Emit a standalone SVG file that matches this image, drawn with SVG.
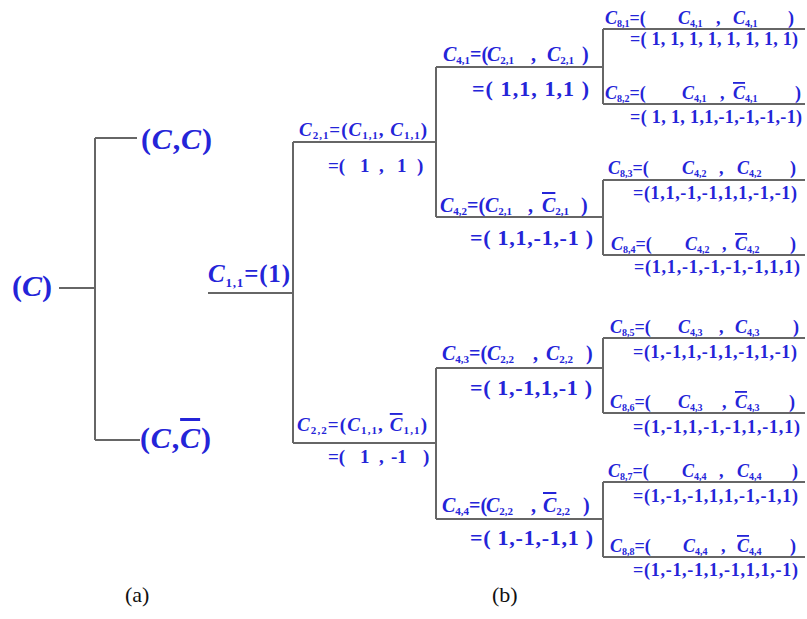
<svg xmlns="http://www.w3.org/2000/svg" width="807" height="619" viewBox="0 0 807 619">
<style>
.t{font-family:"Liberation Serif","Times New Roman",serif;font-weight:bold;fill:#2424d8}
.i{font-style:italic}
.ov{text-decoration:overline}
.f30{font-size:30px}.f25{font-size:25px}.f22{font-size:22px}.f20{font-size:20px}.f19{font-size:19px}.f18{font-size:18px}
.s14{font-size:13px}.s11{font-size:11px}.s10{font-size:10px}
.cap{font-family:"Liberation Serif","Times New Roman",serif;font-size:22px;fill:#111}
.ln{fill:none;stroke:#666;stroke-width:2}
</style>
<rect width="807" height="619" fill="#fff"/>
<g id="connectors" class="ln">
<path d="M59,288H95M95,138V440M95,138H137M95,440H140"/>
<path d="M208,293H293M293,142V443M293,142H436M293,443H436"/>
<path d="M436,67V217M436,67H603M436,217H603M436,368V519M436,368H603M436,519H603"/>
<path d="M603,29V104M603,29H805M603,104H805"/>
<path d="M603,180V255M603,180H805M603,255H805"/>
<path d="M603,338V413M603,338H805M603,413H805"/>
<path d="M603,482V557M603,482H805M603,557H805"/>
</g>
<g id="a-root"><text class="t f30" x="12" y="296">(<tspan class="i">C</tspan>)</text></g>
<g id="a-top"><text class="t f30" x="141" y="149" textLength="71" lengthAdjust="spacing">(<tspan class="i">C</tspan>,<tspan class="i">C</tspan>)</text></g>
<g id="a-bot"><text class="t f30" x="140" y="448" textLength="71" lengthAdjust="spacing">(<tspan class="i">C</tspan>,<tspan class="i ov">C</tspan>)</text></g>
<g id="c11"><text class="t f25" x="208" y="282" textLength="82" lengthAdjust="spacing"><tspan class="i">C</tspan><tspan class="s14" dy="5">1,1</tspan><tspan dy="-5">=(1)</tspan></text></g>
<g id="c21">
<text class="t f19" x="299" y="136" textLength="128" lengthAdjust="spacing"><tspan class="i">C</tspan><tspan class="s11" dy="3">2,1</tspan><tspan dy="-3">=(</tspan><tspan class="i">C</tspan><tspan class="s11" dy="3">1,1</tspan><tspan dy="-3">, </tspan><tspan class="i">C</tspan><tspan class="s11" dy="3">1,1</tspan><tspan dy="-3">)</tspan></text>
<text class="t f19" y="172"><tspan x="328">=(</tspan><tspan x="360">1</tspan><tspan x="379">,</tspan><tspan x="397">1</tspan><tspan x="417">)</tspan></text>
</g>
<g id="c22">
<text class="t f19" x="297" y="431" textLength="130" lengthAdjust="spacing"><tspan class="i">C</tspan><tspan class="s11" dy="3">2,2</tspan><tspan dy="-3">=(</tspan><tspan class="i">C</tspan><tspan class="s11" dy="3">1,1</tspan><tspan dy="-3">, </tspan><tspan class="i ov">C</tspan><tspan class="s11" dy="3">1,1</tspan><tspan dy="-3">)</tspan></text>
<text class="t f19" y="463"><tspan x="328">=(</tspan><tspan x="360">1</tspan><tspan x="379">,</tspan><tspan x="391">-1</tspan><tspan x="423">)</tspan></text>
</g>
<g id="c41">
<text class="t f20" y="61"><tspan x="443" class="i">C</tspan><tspan class="s11" dy="3">4,1</tspan><tspan dy="-3">=(</tspan><tspan x="487" class="i">C</tspan><tspan class="s11" dy="3">2,1</tspan><tspan x="531" dy="-3">,</tspan><tspan x="547" class="i">C</tspan><tspan class="s11" dy="3">2,1</tspan><tspan x="582" dy="-3">)</tspan></text>
<text class="t f22" x="472" y="96" textLength="117" lengthAdjust="spacing">=( 1,1, 1,1 )</text>
</g>
<g id="c42">
<text class="t f20" y="212"><tspan x="440" class="i">C</tspan><tspan class="s11" dy="3">4,2</tspan><tspan dy="-3">=(</tspan><tspan x="485" class="i">C</tspan><tspan class="s11" dy="3">2,1</tspan><tspan x="528" dy="-3">,</tspan><tspan x="542" class="i ov">C</tspan><tspan class="s11" dy="3">2,1</tspan><tspan x="581" dy="-3">)</tspan></text>
<text class="t f22" x="470" y="245" textLength="123" lengthAdjust="spacing">=( 1,1,-1,-1 )</text>
</g>
<g id="c43">
<text class="t f20" y="360"><tspan x="442" class="i">C</tspan><tspan class="s11" dy="3">4,3</tspan><tspan dy="-3">=(</tspan><tspan x="487" class="i">C</tspan><tspan class="s11" dy="3">2,2</tspan><tspan x="533" dy="-3">,</tspan><tspan x="546" class="i">C</tspan><tspan class="s11" dy="3">2,2</tspan><tspan x="586" dy="-3">)</tspan></text>
<text class="t f22" x="470" y="395" textLength="122" lengthAdjust="spacing">=( 1,-1,1,-1 )</text>
</g>
<g id="c44">
<text class="t f20" y="512"><tspan x="442" class="i">C</tspan><tspan class="s11" dy="3">4,4</tspan><tspan dy="-3">=(</tspan><tspan x="486" class="i">C</tspan><tspan class="s11" dy="3">2,2</tspan><tspan x="531" dy="-3">,</tspan><tspan x="543" class="i ov">C</tspan><tspan class="s11" dy="3">2,2</tspan><tspan x="583" dy="-3">)</tspan></text>
<text class="t f22" x="470" y="545" textLength="123" lengthAdjust="spacing">=( 1,-1,-1,1 )</text>
</g>
<g id="c81">
<text class="t f18" y="24"><tspan x="605" class="i">C</tspan><tspan class="s10" dy="3">8,1</tspan><tspan dy="-3">=(</tspan><tspan x="678" class="i">C</tspan><tspan class="s10" dy="3">4,1</tspan><tspan x="716" dy="-3">,</tspan><tspan x="733" class="i">C</tspan><tspan class="s10" dy="3">4,1</tspan><tspan x="788" dy="-3">)</tspan></text>
<text class="t f18" x="630" y="45" textLength="168" lengthAdjust="spacing">=( 1, 1, 1, 1, 1, 1, 1, 1)</text>
</g>
<g id="c82">
<text class="t f18" y="99"><tspan x="605" class="i">C</tspan><tspan class="s10" dy="3">8,2</tspan><tspan dy="-3">=(</tspan><tspan x="682" class="i">C</tspan><tspan class="s10" dy="3">4,1</tspan><tspan x="720" dy="-3">,</tspan><tspan x="733" class="i ov">C</tspan><tspan class="s10" dy="3">4,1</tspan><tspan x="795" dy="-3">)</tspan></text>
<text class="t f18" x="630" y="123" textLength="172" lengthAdjust="spacing">=( 1, 1, 1,1,-1,-1,-1,-1)</text>
</g>
<g id="c83">
<text class="t f18" y="174"><tspan x="608" class="i">C</tspan><tspan class="s10" dy="3">8,3</tspan><tspan dy="-3">=(</tspan><tspan x="682" class="i">C</tspan><tspan class="s10" dy="3">4,2</tspan><tspan x="719" dy="-3">,</tspan><tspan x="737" class="i">C</tspan><tspan class="s10" dy="3">4,2</tspan><tspan x="790" dy="-3">)</tspan></text>
<text class="t f18" x="633" y="199" textLength="164" lengthAdjust="spacing">=(1,1,-1,-1,1,1,-1,-1)</text>
</g>
<g id="c84">
<text class="t f18" y="250"><tspan x="611" class="i">C</tspan><tspan class="s10" dy="3">8,4</tspan><tspan dy="-3">=(</tspan><tspan x="685" class="i">C</tspan><tspan class="s10" dy="3">4,2</tspan><tspan x="722" dy="-3">,</tspan><tspan x="735" class="i ov">C</tspan><tspan class="s10" dy="3">4,2</tspan><tspan x="790" dy="-3">)</tspan></text>
<text class="t f18" x="634" y="273" textLength="166" lengthAdjust="spacing">=(1,1,-1,-1,-1,-1,1,1)</text>
</g>
<g id="c85">
<text class="t f18" y="333"><tspan x="610" class="i">C</tspan><tspan class="s10" dy="3">8,5</tspan><tspan dy="-3">=(</tspan><tspan x="678" class="i">C</tspan><tspan class="s10" dy="3">4,3</tspan><tspan x="719" dy="-3">,</tspan><tspan x="735" class="i">C</tspan><tspan class="s10" dy="3">4,3</tspan><tspan x="793" dy="-3">)</tspan></text>
<text class="t f18" x="633" y="358" textLength="164" lengthAdjust="spacing">=(1,-1,1,-1,1,-1,1,-1)</text>
</g>
<g id="c86">
<text class="t f18" y="408"><tspan x="610" class="i">C</tspan><tspan class="s10" dy="3">8,6</tspan><tspan dy="-3">=(</tspan><tspan x="678" class="i">C</tspan><tspan class="s10" dy="3">4,3</tspan><tspan x="722" dy="-3">,</tspan><tspan x="735" class="i ov">C</tspan><tspan class="s10" dy="3">4,3</tspan><tspan x="789" dy="-3">)</tspan></text>
<text class="t f18" x="633" y="433" textLength="167" lengthAdjust="spacing">=(1,-1,1,-1,-1,1,-1,1)</text>
</g>
<g id="c87">
<text class="t f18" y="477"><tspan x="608" class="i">C</tspan><tspan class="s10" dy="3">8,7</tspan><tspan dy="-3">=(</tspan><tspan x="682" class="i">C</tspan><tspan class="s10" dy="3">4,4</tspan><tspan x="719" dy="-3">,</tspan><tspan x="737" class="i">C</tspan><tspan class="s10" dy="3">4,4</tspan><tspan x="792" dy="-3">)</tspan></text>
<text class="t f18" x="633" y="502" textLength="165" lengthAdjust="spacing">=(1,-1,-1,1,1,-1,-1,1)</text>
</g>
<g id="c88">
<text class="t f18" y="552"><tspan x="610" class="i">C</tspan><tspan class="s10" dy="3">8,8</tspan><tspan dy="-3">=(</tspan><tspan x="683" class="i">C</tspan><tspan class="s10" dy="3">4,4</tspan><tspan x="721" dy="-3">,</tspan><tspan x="737" class="i ov">C</tspan><tspan class="s10" dy="3">4,4</tspan><tspan x="790" dy="-3">)</tspan></text>
<text class="t f18" x="633" y="576" textLength="165" lengthAdjust="spacing">=(1,-1,-1,1,-1,1,1,-1)</text>
</g>
<g id="labels">
<text class="cap" x="125" y="602">(a)</text>
<text class="cap" x="492" y="602">(b)</text>
</g>
</svg>
